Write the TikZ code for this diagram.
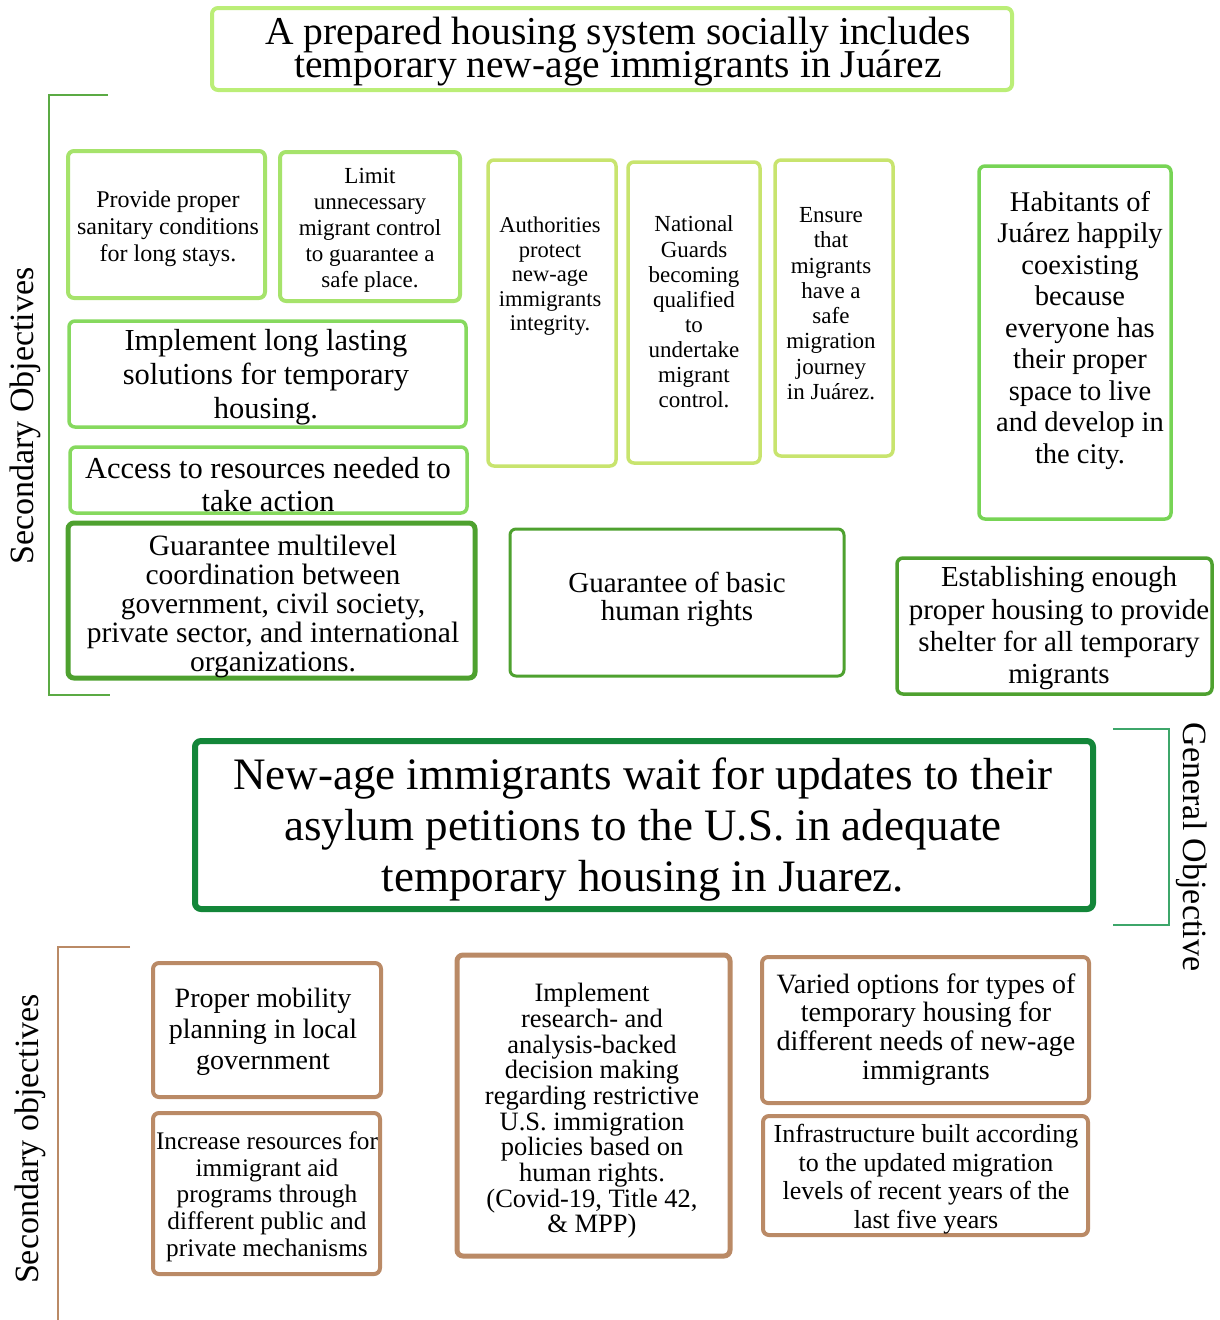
\documentclass[tikz,border=0pt]{standalone}
\usepackage{fontspec}
\setmainfont{Liberation Serif}
\definecolor{cTitle}{HTML}{BBEE77}
\definecolor{cLime}{HTML}{A6E36B}
\definecolor{cLight}{HTML}{86D95E}
\definecolor{cYel}{HTML}{C8E46E}
\definecolor{cHab}{HTML}{77D455}
\definecolor{cMid}{HTML}{4EA12F}
\definecolor{cDark}{HTML}{138639}
\definecolor{cBrTL}{HTML}{5BAA44}
\definecolor{cBrR}{HTML}{3DA66A}
\definecolor{cBrown}{HTML}{BA8A66}
\newcommand{\fs}[2]{\fontsize{#1}{#2}\selectfont\lineskiplimit=-100pt\relax}
\begin{document}
\begin{tikzpicture}[x=1pt,y=-1pt,
  boxa/.style={draw=#1, rounded corners=6pt, fill=white},
  txt/.style={align=center, inner sep=0pt, text=black, yshift=-3pt},
  rtxt/.style={align=center, inner sep=0pt, text=black},
  brk/.style={draw=#1, line width=1.5pt}]
\useasboundingbox (0,0) rectangle (1220,1320);

% Title
\draw[boxa=cTitle, line width=4pt] (212,8) rectangle (1012,90);
\node[txt, font=\fs{39.5}{33.5}] (title) at (618,48.5) {A prepared housing system socially includes\\temporary new-age immigrants in Juárez};

% top-left bracket
\draw[brk=cBrTL] (108,95) -- (49,95) -- (49,695) -- (110,695);
\node[rtxt, rotate=90, font=\fs{34}{38}] (secA) at (25,416) {Secondary Objectives};

% Provide
\draw[boxa=cLime, line width=4pt] (68,151) rectangle (265,298);
\node[txt, font=\fs{24}{27}] (prov) at (168,225.7) {Provide proper\\sanitary conditions\\for long stays.};

% Limit
\draw[boxa=cLime, line width=4pt] (280,152) rectangle (460,301);
\node[txt, font=\fs{23}{26}] (limit) at (370,227) {Limit\\unnecessary\\migrant control\\to guarantee a\\safe place.};

% Implement long lasting
\draw[boxa=cLight, line width=3.5pt] (69,321) rectangle (466,427);
\node[txt, font=\fs{30.5}{34}] (impl) at (266,374) {Implement long lasting\\solutions for temporary\\housing.};

% Access
\draw[boxa=cLight, line width=3.5pt] (70,447) rectangle (467,513);
\node[txt, font=\fs{30.5}{33}] (acc) at (268,481.5) {Access to resources needed to\\take action};

% Guarantee multilevel
\draw[boxa=cMid, line width=5pt] (68,523) rectangle (475,678);
\node[txt, font=\fs{29.5}{29}] (multi) at (273,603) {Guarantee multilevel\\coordination between\\government, civil society,\\private sector, and international\\organizations.};

% Guarantee basic
\draw[boxa=cMid, line width=3pt] (510,529) rectangle (844,676);
\node[txt, font=\fs{29}{28}] (basic) at (677,596) {Guarantee of basic\\human rights};

% Establishing
\draw[boxa=cMid, line width=3.5pt] (897,558) rectangle (1212,694);
\node[txt, font=\fs{29}{32.3}] (estab) at (1059,625.5) {Establishing enough\\proper housing to provide\\shelter for all temporary\\migrants};

% Authorities
\draw[boxa=cYel, line width=3.5pt] (488,160) rectangle (616,466);
\node[txt, font=\fs{22.5}{24.5}] (auth) at (550,273.2) {Authorities\\protect\\new-age\\immigrants\\integrity.};

% National Guards
\draw[boxa=cYel, line width=3.5pt] (628,162) rectangle (760,463);
\node[txt, font=\fs{23}{25.1}] (natl) at (694,309) {National\\Guards\\becoming\\qualified\\to\\undertake\\migrant\\control.};

% Ensure
\draw[boxa=cYel, line width=3.5pt] (775,160) rectangle (893,456);
\node[txt, font=\fs{23}{25.3}] (ensure) at (831,300.6) {Ensure\\that\\migrants\\have a\\safe\\migration\\journey\\in Juárez.};

% Habitants
\draw[boxa=cHab, line width=3.5pt] (979,166) rectangle (1171,519);
\node[txt, font=\fs{28.5}{31.5}] (hab) at (1080,327.3) {Habitants of\\Juárez happily\\coexisting\\because\\everyone has\\their proper\\space to live\\and develop in\\the city.};

% Main
\draw[boxa=cDark, line width=6pt] (195,741) rectangle (1093,909);
\node[txt, font=\fs{45}{51}] (main) at (643,827) {New-age immigrants wait for updates to their\\asylum petitions to the U.S. in adequate\\temporary housing in Juarez.};

% right bracket
\draw[brk=cBrR] (1113,729) -- (1169,729) -- (1169,925) -- (1113,925);
\node[rtxt, rotate=-90, font=\fs{34}{38}] (gen) at (1192,847) {General Objective};

% bottom-left bracket
\draw[brk=cBrown] (130,947) -- (58,947) -- (58,1320);
\node[rtxt, rotate=90, font=\fs{34}{38}] (secB) at (30,1139) {Secondary objectives};

% Proper mobility
\draw[boxa=cBrown, line width=4pt] (153,963) rectangle (381,1097);
\node[txt, font=\fs{28}{31}] (mob) at (263,1029) {Proper mobility\\planning in local\\government};

% Increase
\draw[boxa=cBrown, line width=4pt] (153,1113) rectangle (380,1274);
\node[txt, font=\fs{25.3}{26.7}] (incr) at (267,1193.6) {Increase resources for\\immigrant aid\\programs through\\different public and\\private mechanisms};

% Implement research
\draw[boxa=cBrown, line width=5pt] (457,955) rectangle (730,1256);
\node[txt, font=\fs{26.5}{25.7}] (res) at (592,1107.9) {Implement\\research- and\\analysis-backed\\decision making\\regarding restrictive\\U.S. immigration\\policies based on\\human rights.\\(Covid-19, Title 42,\\\& MPP)};

% Varied
\draw[boxa=cBrown, line width=4pt] (762,957) rectangle (1089,1103);
\node[txt, font=\fs{28}{28.7}] (var) at (926,1026.25) {Varied options for types of\\temporary housing for\\different needs of new-age\\immigrants};

% Infrastructure
\draw[boxa=cBrown, line width=4pt] (763,1116) rectangle (1088,1235);
\node[txt, font=\fs{26}{28.7}] (infra) at (926,1176) {Infrastructure built according\\to the updated migration\\levels of recent years of the\\last five years};
\end{tikzpicture}
\end{document}
